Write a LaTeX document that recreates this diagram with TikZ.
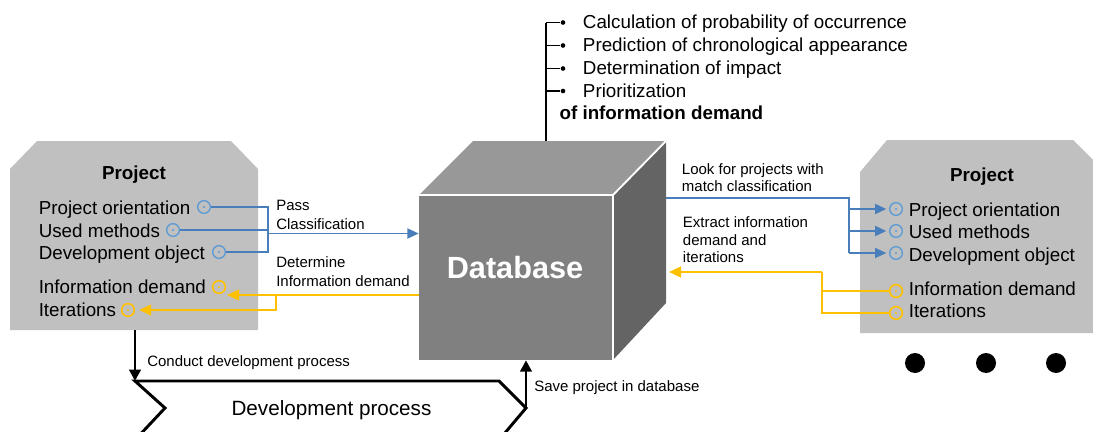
\documentclass[tikz,border=0pt]{standalone}
\usepackage{fontspec}
\setmainfont{Liberation Sans}
\usetikzlibrary{arrows.meta,calc}
\definecolor{bl}{HTML}{4A7EBB}
\definecolor{blc}{HTML}{5B9BD5}
\definecolor{orc}{HTML}{FFC000}
\definecolor{gr}{HTML}{C0C0C0}
\definecolor{dbf}{HTML}{808080}
\definecolor{dbt}{HTML}{989898}
\definecolor{dbr}{HTML}{646464}
\begin{document}
\begin{tikzpicture}[x=0.75pt,y=-0.75pt,
  big/.style={font=\fontsize{14.1}{17}\selectfont, inner sep=0pt, anchor=base west},
  bighead/.style={font=\fontsize{14.1}{17}\selectfont\bfseries, inner sep=0pt, anchor=base},
  small/.style={font=\fontsize{11.25}{14}\selectfont, inner sep=0pt, anchor=base west},
  bport/.style={circle, draw=blc, line width=1pt, minimum size=9.5pt, inner sep=0pt,
    path picture={\fill[blc] (path picture bounding box.center) circle (0.8pt);}},
  oport/.style={circle, draw=orc, line width=1.2pt, minimum size=9.5pt, inner sep=0pt,
    path picture={\fill[orc] (path picture bounding box.center) circle (0.8pt);}},
  bline/.style={draw=bl, line width=1.35pt},
  barrow/.style={bline, -{Triangle[length=8.5pt,width=7.5pt]}},
  oline/.style={draw=orc, line width=1.7pt},
  oarrow/.style={oline, -{Triangle[length=9pt,width=8pt]}},
  karrow/.style={draw=black, line width=2.2pt, -{Triangle[length=8.5pt,width=8.5pt]}},
  bullet/.style={circle, fill=black, minimum size=3.5pt, inner sep=0pt},
  bigdot/.style={circle, fill=black, minimum size=15pt, inner sep=0pt},
]
\useasboundingbox (0,0) rectangle (1093,432);
\clip (0,0) rectangle (1093,432);

% ---------- project shapes ----------
\fill[gr] (10,330) -- (10,169) -- (37,141) -- (231,141) -- (258,169) -- (258,330) -- cycle;
\fill[gr] (860,333) -- (860,172) -- (887,140) -- (1073,140) -- (1103,170) -- (1103,333) -- cycle;

% left project texts
\node[bighead] (lp) at (134,179.5) {Project};
\node[big] (lt1) at (38.5,214.5) {Project orientation};
\node[big] (lt2) at (38.5,237) {Used methods};
\node[big] (lt3) at (38.5,259.5) {Development object};
\node[big] (lt4) at (38.5,293.8) {Information demand};
\node[big] (lt5) at (38.5,316.5) {Iterations};
\node[bport] (lpo) at (204,207) {};
\node[bport] (lum) at (173,230) {};
\node[bport] (ldo) at (219,252) {};
\node[oport] (lid) at (219,287) {};
\node[oport] (lit) at (128,310) {};

% right project texts
\node[bighead] (rp) at (982,181) {Project};
\node[big] (rt1) at (908.5,216) {Project orientation};
\node[big] (rt2) at (908.5,238) {Used methods};
\node[big] (rt3) at (908.5,261) {Development object};
\node[big] (rt4) at (908.5,295.5) {Information demand};
\node[big] (rt5) at (908.5,317.5) {Iterations};
\node[bport] (rpo) at (896,209) {};
\node[bport] (rum) at (896,231) {};
\node[bport] (rdo) at (896,253) {};
\node[oport] (rid) at (896,291) {};
\node[oport] (rit) at (896,313) {};

% ---------- database cube ----------
\fill[dbt] (419,195) -- (473,141) -- (666,141) -- (613,195) -- cycle;
\fill[dbr] (613,195) -- (666,141) -- (666,303) -- (613,360) -- cycle;
\node[fill=dbf, minimum width=144.75pt, minimum height=123pt, inner sep=0pt] (db) at (515.5,278) {};
\draw[white, line width=1.4pt] (419,195) -- (613,195) -- (666,141);
\draw[white, line width=1.4pt] (613,195) -- (613,360);
\node[font=\fontsize{23}{27}\selectfont\bfseries, text=white, inner sep=0pt, anchor=base] (dbl) at (515,278) {Database};

% ---------- top list ----------
\coordinate (vt) at (546,22.5);
\coordinate (vb) at (546,141);
\draw[line width=1.2pt] (vt) -- (vb);
\foreach \i/\y in {1/22.5,2/45.5,3/68.5,4/91}{
  \node[bullet] (b\i) at (563,\y) {};
  \coordinate (t\i) at (546,\y);
  \draw[line width=0.9pt] (t\i) -- (b\i);
}
\node[big] (l1) at (582.7,28.3) {Calculation of probability of occurrence};
\node[big] (l2) at (582.7,51.5) {Prediction of chronological appearance};
\node[big] (l3) at (582.7,74.2) {Determination of impact};
\node[big] (l4) at (582.7,97.3) {Prioritization};
\node[big, font=\fontsize{14.1}{17}\selectfont\bfseries] (l5) at (559.3,119.3) {of information demand};

% ---------- left connectors ----------
\coordinate (lbt) at (268,207);
\coordinate (lbb) at (268,252);
\coordinate (lbr) at (268,233.5);
\draw[bline] (lpo.east) -- (lbt) -- (lbb) -- (ldo.east);
\draw[bline] (lum.east) -- (lum.east -| lbt);
\draw[barrow] (lbr) -- (db.west |- lbr);
\node[small] (pc1) at (276,210) {Pass};
\node[small] (pc2) at (276,229.3) {Classification};

\coordinate (lo1) at (276,295);
\coordinate (lidtip) at (227,295);
\draw[oarrow] (db.west |- lo1) -- (lidtip);
\draw[oarrow, shorten >=3pt] (lo1) |- (lit.east);
\node[small] (dd1) at (276,267.3) {Determine};
\node[small] (dd2) at (276,286.7) {Information demand};

% ---------- right connectors ----------
\coordinate (rb0) at (666,198);
\coordinate (rbx) at (849,198);
\draw[bline] (rb0) -- (rbx) -- (rbx |- rdo);
\draw[barrow, shorten >=2pt] (rbx |- rpo) -- (rpo.west);
\draw[barrow, shorten >=2pt] (rbx |- rum) -- (rum.west);
\draw[barrow, shorten >=2pt] (rbx |- rdo) -- (rdo.west);
\node[small] (lf1) at (681.7,174) {Look for projects with};
\node[small] (lf2) at (681.7,191.7) {match classification};

\coordinate (ro0) at (669,272);
\coordinate (rox) at (822,272);
\draw[oarrow] (rox) -- (ro0);
\draw[oline] (rox) |- (rit.west);
\draw[oline] (rox |- rid) -- (rid.west);
\node[small] (ex1) at (682.7,227.3) {Extract information};
\node[small] (ex2) at (682.7,245) {demand and};
\node[small] (ex3) at (682.7,262.7) {iterations};

% ---------- development process ----------
\coordinate (lbot) at (135,330);
\coordinate (chtl) at (135,381);
\coordinate (chtip) at (526,408);
\draw[karrow] (lbot) -- (chtl);
\draw[line width=2.2pt, line join=miter] (135,440) -- (165,408) -- (chtl) -- (499,381) -- (chtip) -- (499,440);
\draw[karrow] (chtip) -- (db.south -| chtip);
\node[font=\fontsize{15.5}{18}\selectfont, inner sep=0pt, anchor=base] (dp) at (331.5,415) {Development process};
\node[small] (cdp) at (147,366) {Conduct development process};
\node[small] (spd) at (534,391) {Save project in database};

% ---------- dots ----------
\node[bigdot] (d1) at (915,363) {};
\node[bigdot] (d2) at (986,363) {};
\node[bigdot] (d3) at (1056,363) {};
\end{tikzpicture}
\end{document}
